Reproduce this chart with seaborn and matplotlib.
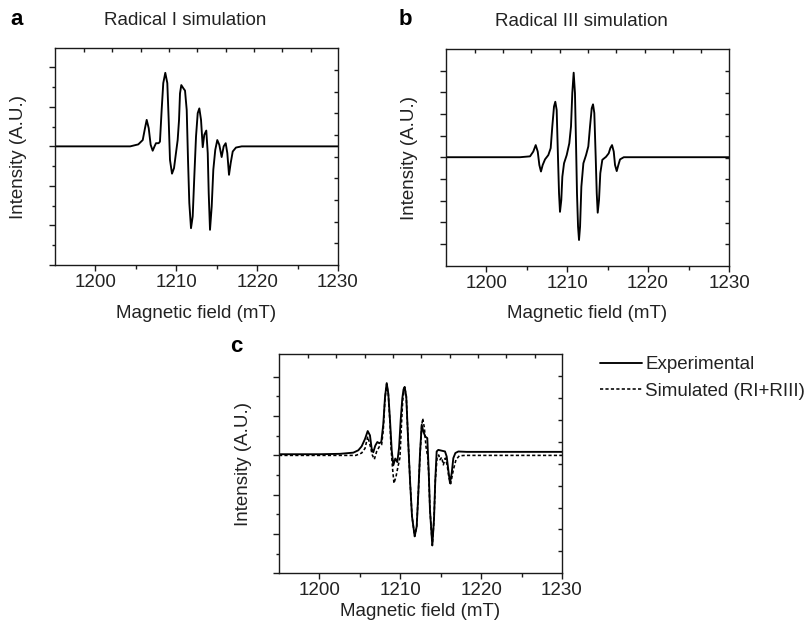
import numpy as np
import pandas as pd
import matplotlib
matplotlib.use("Agg")
import matplotlib.pyplot as plt
from matplotlib.ticker import FixedLocator, NullFormatter
import seaborn as sns

# ---------------- data ----------------
field_a = [1195.0, 1204.3, 1205.3, 1205.85, 1206.13, 1206.34, 1206.59, 1206.83, 1207.08, 1207.33,
           1207.49, 1207.82, 1207.98, 1208.19, 1208.39, 1208.64, 1208.89, 1209.06, 1209.22, 1209.47,
           1209.72, 1209.96, 1210.17, 1210.34, 1210.46, 1210.62, 1210.87, 1211.08, 1211.29, 1211.45,
           1211.61, 1211.82, 1212.03, 1212.23, 1212.44, 1212.65, 1212.85, 1213.06, 1213.27, 1213.46,
           1213.71, 1213.89, 1214.01, 1214.17, 1214.38, 1214.58, 1214.82, 1215.07, 1215.32, 1215.61,
           1215.86, 1216.11, 1216.31, 1216.52, 1216.73, 1216.98, 1217.38, 1218.09, 1230.0]
radical_I = [0, 0, 0.05, 0.16, 0.46, 0.67, 0.46, 0.04, -0.11, 0.01,
             0.08, 0.08, 0.12, 0.92, 1.60, 1.86, 1.60, 0.67, -0.34, -0.69,
             -0.55, -0.17, 0.16, 0.67, 1.34, 1.55, 1.47, 1.41, 0.92, -0.34,
             -1.43, -2.07, -1.77, -0.76, 0.25, 0.84, 0.96, 0.67, -0.02, 0.29,
             0.40, -0.17, -1.18, -2.11, -1.52, -0.59, -0.09, 0.16, 0.04, -0.27,
             0.0, 0.08, -0.17, -0.72, -0.42, -0.13, -0.03, 0, 0]

field_b = [1195.0, 1204.18, 1205.42, 1205.82, 1206.12, 1206.37, 1206.57, 1206.77, 1206.98, 1207.27,
           1207.68, 1207.97, 1208.17, 1208.38, 1208.54, 1208.71, 1208.87, 1209.0, 1209.12, 1209.28,
           1209.41, 1209.62, 1209.95, 1210.27, 1210.48, 1210.64, 1210.81, 1210.97, 1211.10, 1211.22,
           1211.35, 1211.47, 1211.60, 1211.76, 1212.01, 1212.34, 1212.62, 1212.83, 1213.04, 1213.20,
           1213.36, 1213.53, 1213.66, 1213.78, 1213.94, 1214.10, 1214.35, 1214.81, 1215.14, 1215.34,
           1215.55, 1215.76, 1215.92, 1216.13, 1216.33, 1216.54, 1217.0, 1230.0]
radical_III = [0, 0, 0.02, 0.13, 0.28, 0.13, -0.18, -0.33, -0.18, -0.05,
               0.05, 0.21, 0.71, 1.17, 1.28, 1.09, 0.01, -0.83, -1.26, -0.99,
               -0.45, -0.14, 0.05, 0.32, 0.71, 1.48, 1.95, 1.48, 0.32, -0.83,
               -1.60, -1.91, -1.60, -0.68, -0.14, 0.05, 0.25, 0.71, 1.13, 1.22,
               1.02, 0.01, -0.83, -1.28, -0.99, -0.37, -0.06, 0.01, 0.09, 0.21,
               0.28, 0.13, -0.18, -0.32, -0.18, -0.05, 0, 0]

field_exp = [1195.0, 1200.07, 1202.54, 1204.19, 1204.81, 1205.22, 1205.64, 1205.97, 1206.25, 1206.46,
             1206.66, 1206.91, 1207.16, 1207.40, 1207.65, 1207.90, 1208.11, 1208.32, 1208.52, 1208.73,
             1208.94, 1209.14, 1209.38, 1209.63, 1209.85, 1210.05, 1210.25, 1210.40, 1210.54, 1210.74,
             1210.95, 1211.20, 1211.45, 1211.78, 1212.03, 1212.23, 1212.44, 1212.65, 1212.85, 1213.09,
             1213.34, 1213.51, 1213.67, 1213.96, 1214.17, 1214.33, 1214.50, 1214.70, 1215.12, 1215.53,
             1215.74, 1215.94, 1216.15, 1216.36, 1216.56, 1216.81, 1217.18, 1218.21, 1230.0]
experimental = [0.03, 0.03, 0.04, 0.07, 0.13, 0.23, 0.42, 0.62, 0.51, 0.17,
                0.08, 0.25, 0.34, 0.31, 0.34, 0.80, 1.48, 1.84, 1.57, 0.89,
                0.13, -0.25, -0.08, -0.17, 0.20, 0.90, 1.45, 1.68, 1.74, 1.50,
                0.48, -0.62, -1.55, -2.06, -1.81, -0.96, 0.06, 0.78, 0.61, 0.48,
                0.44, -0.37, -1.38, -2.29, -1.63, -0.62, 0.10, 0.14, 0.12, 0.10,
                -0.03, -0.37, -0.71, -0.45, -0.07, 0.06, 0.10, 0.09, 0.09]

field_sim = [1195.0, 1204.5, 1205.22, 1205.64, 1205.97, 1206.25, 1206.54, 1206.79, 1207.08, 1207.40,
             1207.69, 1207.90, 1208.11, 1208.32, 1208.52, 1208.73, 1208.85, 1209.06, 1209.22, 1209.47,
             1209.71, 1209.96, 1210.15, 1210.30, 1210.54, 1210.74, 1210.95, 1211.20, 1211.45, 1211.78,
             1212.03, 1212.23, 1212.44, 1212.65, 1212.77, 1212.98, 1213.18, 1213.40, 1213.51, 1213.67,
             1213.96, 1214.17, 1214.33, 1214.55, 1214.75, 1214.91, 1215.12, 1215.32, 1215.57, 1215.80,
             1216.00, 1216.23, 1216.56, 1216.89, 1217.30, 1218.0, 1230.0]
simulated = [0.0, 0.0, 0.06, 0.18, 0.48, 0.27, 0.01, -0.10, 0.10, 0.22,
             0.27, 0.65, 1.45, 1.82, 1.55, 0.80, 0.20, -0.37, -0.71, -0.54,
             -0.29, -0.05, 0.80, 1.40, 1.74, 1.50, 0.48, -0.62, -1.55, -2.06,
             -1.81, -0.96, 0.0, 0.75, 0.94, 0.70, 0.22, -0.05, -0.45, -1.38,
             -2.29, -1.63, -0.65, -0.05, 0.01, -0.11, -0.05, -0.24, -0.07, -0.25,
             -0.55, -0.72, -0.37, -0.11, -0.01, 0.0, 0.0]

x_ticks = [1200, 1210, 1220, 1230]
x_tick_labels = ["1200", "1210", "1220", "1230"]
titles = ["Radical I simulation", "Radical III simulation"]
panel_letters = ["a", "b", "c"]
x_label = "Magnetic field (mT)"
y_label = "Intensity (A.U.)"
legend_labels = ["Experimental", "Simulated (RI+RIII)"]

# ---------------- styling ----------------
sns.set_theme(style="ticks")
plt.rcParams["font.family"] = ["Liberation Sans", "DejaVu Sans"]
FS = 13.5
INK = "#1a1a1a"
plt.rcParams.update({
    "axes.edgecolor": INK, "axes.linewidth": 1.0,
    "xtick.color": INK, "ytick.color": INK,
    "xtick.labelcolor": "#222222", "text.color": "#222222",
    "axes.labelcolor": "#222222",
})

W, H = 806, 624
fig = plt.figure(figsize=(W / 100, H / 100), dpi=100)
fig.patch.set_facecolor("white")

BOXES = {"a": (55, 48.3, 338, 265), "b": (445.7, 49.3, 729, 266), "c": (279, 354, 562, 573.3)}


def px_axes(left, top, right, bottom):
    return fig.add_axes([left / W, 1 - bottom / H, (right - left) / W, (bottom - top) / H])


ax_a = px_axes(*BOXES["a"])
ax_b = px_axes(*BOXES["b"])
ax_c = px_axes(*BOXES["c"])

top_tick_pos = [1198.6, 1202.1, 1205.6, 1209.1, 1212.6, 1216.1, 1219.6, 1223.1, 1226.6]
right_tick_frac = [0.1, 0.2, 0.3, 0.4, 0.5, 0.6, 0.7, 0.8, 0.9]


def style_axes(ax, box, ylim, major_y, minor_y, xlabel_y, ylabel_x):
    left, top, right, bottom = box
    w, h = right - left, bottom - top
    ax.set_xlim(1195, 1230)
    ax.set_ylim(*ylim)
    ax.set_xticks(x_ticks)
    ax.set_xticklabels(x_tick_labels)
    ax.xaxis.set_minor_locator(FixedLocator([1205, 1215, 1225]))
    ax.set_yticks(major_y)
    ax.yaxis.set_minor_locator(FixedLocator(minor_y))
    ax.yaxis.set_major_formatter(NullFormatter())
    ax.tick_params(axis="x", which="major", direction="out", length=4, width=1,
                   labelsize=FS, pad=2.5, top=False)
    ax.tick_params(axis="x", which="minor", direction="out", length=3, width=1, top=False)
    ax.tick_params(axis="y", which="major", direction="out", length=4, width=1, right=False)
    ax.tick_params(axis="y", which="minor", direction="out", length=2.5, width=1, right=False)
    for s in ax.spines.values():
        s.set_visible(True)
    ax.set_xlabel(x_label, fontsize=FS, va="center")
    ax.xaxis.set_label_coords(0.5, (bottom - xlabel_y) / h)
    ax.set_ylabel(y_label, fontsize=FS, va="center")
    ax.yaxis.set_label_coords((ylabel_x - left) / w, 0.5)
    axt = ax.twiny()
    axt.set_xlim(1195, 1230)
    axt.set_xticks(top_tick_pos)
    axt.xaxis.set_major_formatter(NullFormatter())
    axt.tick_params(axis="x", direction="in", length=3, width=1, top=True, bottom=False,
                    labeltop=False)
    axr = ax.twinx()
    axr.set_ylim(0, 1)
    axr.set_yticks(right_tick_frac)
    axr.yaxis.set_major_formatter(NullFormatter())
    axr.tick_params(axis="y", direction="in", length=3, width=1, right=True, left=False,
                    labelright=False)
    for a in (axt, axr):
        a.grid(False)
        for s in a.spines.values():
            s.set_visible(False)


df_a = pd.DataFrame({"field": field_a, "intensity": radical_I})
df_b = pd.DataFrame({"field": field_b, "intensity": radical_III})
df_exp = pd.DataFrame({"field": field_exp, "intensity": experimental})
df_sim = pd.DataFrame({"field": field_sim, "intensity": simulated})

LW = 1.35
sns.lineplot(data=df_a, x="field", y="intensity", ax=ax_a, color="black", lw=LW,
             estimator=None, solid_joinstyle="round")
sns.lineplot(data=df_b, x="field", y="intensity", ax=ax_b, color="black", lw=LW,
             estimator=None, solid_joinstyle="round")
sns.lineplot(data=df_sim, x="field", y="intensity", ax=ax_c, color="black", lw=1.15,
             estimator=None, linestyle=(0, (2.0, 1.4)), label=legend_labels[1])
sns.lineplot(data=df_exp, x="field", y="intensity", ax=ax_c, color="black", lw=LW,
             estimator=None, solid_joinstyle="round", label=legend_labels[0])

style_axes(ax_a, BOXES["a"], (-2.99, 2.48), [-3, -2, -1, 0, 1, 2], [-2.5, -1.5, -0.5, 0.5, 1.5],
           313, 18.3)
style_axes(ax_b, BOXES["b"], (-2.51, 2.49), [-2, -1.5, -1, -0.5, 0, 0.5, 1, 1.5, 2], [],
           313, 409)
style_axes(ax_c, BOXES["c"], (-2.99, 2.58), [-3, -2, -1, 0, 1, 2], [-2.5, -1.5, -0.5, 0.5, 1.5],
           612, 243)

# legend for panel c
handles, labels = ax_c.get_legend_handles_labels()
order = [labels.index(legend_labels[0]), labels.index(legend_labels[1])]
ax_c.legend([handles[i] for i in order], [labels[i] for i in order],
            loc="upper left", bbox_to_anchor=(600 / W, 1 - 356 / H),
            bbox_transform=fig.transFigure, frameon=False, fontsize=FS,
            handlelength=2.24, handletextpad=0.17, labelspacing=0.5,
            borderpad=0, borderaxespad=0)


def ftext(x, y, s, **kw):
    fig.text(x / W, 1 - y / H, s, **kw)


ftext(185, 20.7, titles[0], ha="center", va="center", fontsize=FS)
ftext(581.7, 21, titles[1], ha="center", va="center", fontsize=FS)
ftext(16.7, 25, panel_letters[0], ha="center", va="baseline", fontsize=16, fontweight="bold",
      color="black")
ftext(405, 25, panel_letters[1], ha="center", va="baseline", fontsize=16, fontweight="bold",
      color="black")
ftext(236, 352, panel_letters[2], ha="center", va="baseline", fontsize=16, fontweight="bold",
      color="black")

fig.savefig("out.png", dpi=100)
